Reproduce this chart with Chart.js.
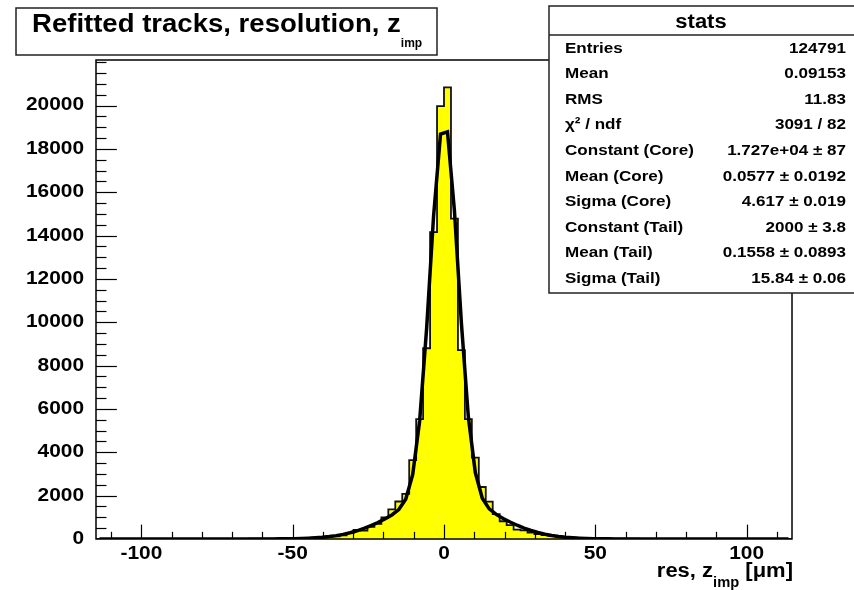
<!DOCTYPE html>
<html lang="en">
<head>
  <meta charset="UTF-8" />
  <title>Refitted tracks, resolution, z_imp</title>
  <script src="https://cdn.jsdelivr.net/npm/chart.js"></script>
  <style>
    body { margin: 0; background: #fff; }
    #wrap { width: 854px; height: 590px; }
  </style>
</head>
<body>
  <div id="wrap"><canvas id="resChart" width="854" height="590"></canvas></div>

  <script>
    // histogram binning: 100 bins from -115 to 115 um
    const xMin = -115;
    const xMax = 115;
    const nBins = 100;

    // bin contents (bin 0 = leftmost)
    const counts = [
      2, 1, 2, 1, 2, 2, 3, 2, 3, 3,
      3, 2, 4, 3, 5, 4, 6, 5, 7, 8,
      9, 10, 12, 14, 17, 20, 24, 28, 34, 40,
      48, 58, 72, 95, 125, 165, 270, 420, 390, 560,
      700, 1000, 1370, 1730, 2080, 3640, 5530, 8800, 14160, 19970,
      20840, 14780, 8710, 5530, 3750, 2400, 1720, 1150, 820, 640,
      430, 400, 300, 230, 180, 140, 105, 80, 60, 50,
      40, 33, 27, 22, 18, 15, 13, 11, 9, 8,
      7, 6, 6, 5, 5, 4, 4, 3, 3, 3,
      2, 3, 2, 2, 1, 2, 1, 1, 1, 1
    ];

    // double gaussian fit, value at each bin centre
    const fitValues = [
      0, 0, 0, 0, 0, 0, 0, 0, 0, 0,
      0, 0, 0, 0, 0, 0, 0, 0, 0, 0,
      0, 0, 1, 1, 2, 4, 6, 9, 15, 23,
      35, 53, 77, 111, 155, 214, 287, 378, 488, 616,
      762, 926, 1108, 1357, 1833, 2966, 5445, 9695, 14890, 18682,
      18789, 15141, 9956, 5626, 3065, 1884, 1388, 1134, 947, 783,
      635, 504, 392, 299, 223, 162, 116, 81, 56, 37,
      25, 16, 10, 6, 4, 2, 1, 1, 0, 0,
      0, 0, 0, 0, 0, 0, 0, 0, 0, 0,
      0, 0, 0, 0, 0, 0, 0, 0, 0, 0
    ];

    const xTickLabels = [-100, -50, 0, 50, 100];
    const yTickLabels = [0, 2000, 4000, 6000, 8000, 10000, 12000, 14000, 16000, 18000, 20000];

    const statsLabels = ['Entries', 'Mean', 'RMS', '\u03c7\u00b2 / ndf', 'Constant (Core)', 'Mean (Core)',
      'Sigma (Core)', 'Constant (Tail)', 'Mean (Tail)', 'Sigma (Tail)'];
    const statsValues = ['124791', '0.09153', '11.83', '3091 / 82', '1.727e+04 \u00b1 87', '0.0577 \u00b1 0.0192',
      '4.617 \u00b1 0.019', '2000 \u00b1 3.8', '0.1558 \u00b1 0.0893', '15.84 \u00b1 0.06'];

    const FONT = '"Liberation Sans", Arial, sans-serif';
    const binWidth = (xMax - xMin) / nBins;

    // step outline: one point per lower bin edge, plus the upper edge of the last bin
    const histPoints = counts.map((c, i) => ({ x: xMin + i * binWidth, y: c }));
    histPoints.push({ x: xMax, y: counts[nBins - 1] });
    const fitPoints = fitValues.map((v, i) => ({ x: xMin + (i + 0.5) * binWidth, y: v }));

    function drawLine(ctx, x1, y1, x2, y2) {
      ctx.beginPath();
      ctx.moveTo(x1, y1);
      ctx.lineTo(x2, y2);
      ctx.stroke();
    }

    // ROOT's bold font runs wider than Liberation Sans, so stretch it a bit
    function wideText(ctx, text, x, y, sx, align) {
      const w = ctx.measureText(text).width * sx;
      const left = align === 'right' ? x - w : align === 'center' ? x - w / 2 : x;
      ctx.save();
      ctx.translate(left, y);
      ctx.scale(sx, 1);
      ctx.textAlign = 'left';
      ctx.fillText(text, 0, 0);
      ctx.restore();
      return w;
    }

    function partsWidth(ctx, parts) {
      let w = 0;
      parts.forEach(p => { ctx.font = p.font; w += ctx.measureText(p.text).width * p.sx; });
      return w;
    }

    function drawParts(ctx, parts, x, y) {
      let cx = x;
      parts.forEach(p => {
        ctx.font = p.font;
        cx += wideText(ctx, p.text, cx, y + (p.dy || 0), p.sx, 'left');
      });
    }

    const rootStyle = {
      id: 'rootStyle',
      afterDatasetsDraw(chart) {
        const { ctx, chartArea: a, scales: { x, y } } = chart;
        ctx.save();
        ctx.strokeStyle = '#000';
        ctx.lineWidth = 1.5;
        ctx.strokeRect(a.left, a.top, a.right - a.left, a.bottom - a.top);

        // ticks point into the frame, like ROOT
        ctx.lineWidth = 1.2;
        const xLen = (a.bottom - a.top) * 0.03;
        for (let v = -110; v <= 110; v += 10) {
          const px = Math.round(x.getPixelForValue(v)) + 0.5;
          const len = xTickLabels.includes(v) ? xLen : xLen / 2;
          drawLine(ctx, px, a.bottom, px, a.bottom - len);
        }
        const yLen = (a.right - a.left) * 0.03;
        for (let v = 500; v <= y.max; v += 500) {
          const py = Math.round(y.getPixelForValue(v)) + 0.5;
          const len = yTickLabels.includes(v) ? yLen : yLen / 2;
          drawLine(ctx, a.left, py, a.left + len, py);
        }

        // tick labels
        ctx.fillStyle = '#000';
        ctx.font = 'bold 18px ' + FONT;
        ctx.textBaseline = 'middle';
        xTickLabels.forEach(v => wideText(ctx, String(v), x.getPixelForValue(v), a.bottom + 15, 1.16, 'center'));
        yTickLabels.forEach(v => wideText(ctx, String(v), a.left - 12, y.getPixelForValue(v), 1.16, 'right'));
        ctx.restore();
      },
      afterDraw(chart) {
        const { ctx, chartArea: a } = chart;
        ctx.save();
        ctx.textBaseline = 'alphabetic';

        // title pave
        ctx.fillStyle = '#fff';
        ctx.fillRect(16, 8, 421, 47);
        ctx.strokeStyle = '#222';
        ctx.lineWidth = 1.5;
        ctx.strokeRect(16, 8, 421, 47);
        ctx.fillStyle = '#000';
        drawParts(ctx, [
          { text: 'Refitted tracks, resolution, z', font: 'bold 25.5px ' + FONT, sx: 1.08 },
          { text: 'imp', font: 'bold 12px ' + FONT, sx: 1.0, dy: 15 }
        ], 32, 32);

        // stats pave
        const sx = 549, sy = 6, sw = 310, sh = 287;
        ctx.fillStyle = '#fff';
        ctx.fillRect(sx, sy, sw, sh);
        ctx.strokeRect(sx, sy, sw, sh);
        drawLine(ctx, sx, 35, sx + sw, 35);
        ctx.fillStyle = '#000';
        ctx.textBaseline = 'middle';
        ctx.font = 'bold 20px ' + FONT;
        wideText(ctx, 'stats', 701, 22, 1.1, 'center');
        ctx.font = 'bold 15.5px ' + FONT;
        statsLabels.forEach((lab, i) => {
          const ry = 48.5 + i * 25.55;
          wideText(ctx, lab, 565, ry, 1.1, 'left');
          wideText(ctx, statsValues[i], 846, ry, 1.1, 'right');
        });

        // x axis title, right aligned to the frame
        ctx.textBaseline = 'alphabetic';
        const axParts = [
          { text: 'res, z', font: 'bold 20px ' + FONT, sx: 1.1 },
          { text: 'imp', font: 'bold 14px ' + FONT, sx: 1.05, dy: 10 },
          { text: ' [\u03bcm]', font: 'bold 20px ' + FONT, sx: 1.1 }
        ];
        drawParts(ctx, axParts, a.right + 1 - partsWidth(ctx, axParts), 577);
        ctx.restore();
      }
    };

    const ctx = document.getElementById('resChart').getContext('2d');

    new Chart(ctx, {
      type: 'line',
      data: {
        datasets: [
          {
            label: 'fit',
            data: fitPoints,
            borderColor: '#000',
            borderWidth: 3.5,
            pointRadius: 0,
            tension: 0,
            fill: false,
            order: 0
          },
          {
            label: 'res, z_imp',
            data: histPoints,
            stepped: true,
            borderColor: '#111',
            borderWidth: 1.8,
            backgroundColor: '#ffff00',
            pointRadius: 0,
            fill: 'origin',
            order: 1
          }
        ]
      },
      options: {
        responsive: false,
        animation: false,
        devicePixelRatio: 1,
        layout: { padding: { left: 0, top: 60, right: 62, bottom: 0 } },
        plugins: {
          legend: { display: false },
          tooltip: { enabled: false }
        },
        scales: {
          x: {
            type: 'linear',
            min: xMin,
            max: xMax,
            grid: { display: false, drawTicks: false },
            border: { display: false },
            ticks: { display: false },
            afterFit: s => { s.height = 51; }
          },
          y: {
            type: 'linear',
            min: 0,
            max: 22100,
            grid: { display: false, drawTicks: false },
            border: { display: false },
            ticks: { display: false },
            afterFit: s => { s.width = 96; }
          }
        }
      },
      plugins: [rootStyle]
    });
  </script>
</body>
</html>
